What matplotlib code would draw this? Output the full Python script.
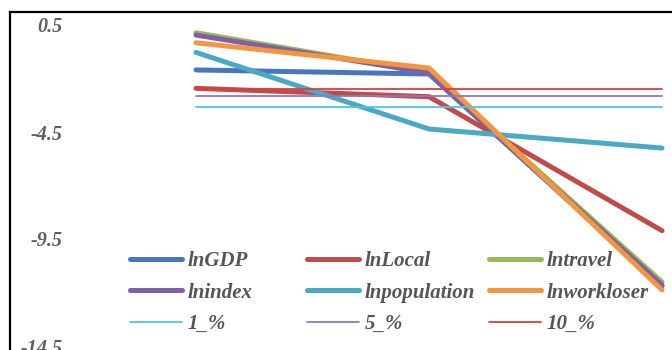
import matplotlib
matplotlib.use("Agg")
import matplotlib.pyplot as plt
from matplotlib.lines import Line2D

# Test stages along the horizontal axis (unlabelled)
stages = [0, 1, 2]

# Test statistics per variable
lnGDP = [-1.60, -1.79, -11.70]
lnLocal = [-2.46, -2.85, -9.11]
lntravel = [0.14, -1.72, -11.51]
lnindex = [0.03, -1.74, -11.65]
lnpopulation = [-0.78, -4.36, -5.25]
lnworkloser = [-0.33, -1.51, -11.88]

# Critical values
crit_1 = -3.33
crit_5 = -2.81
crit_10 = -2.50

yticks = [0.5, -4.5, -9.5, -14.5]
ytick_labels = ["0.5", "-4.5", "-9.5", "-14.5"]

W, H = 672, 350
fig = plt.figure(figsize=(W / 100, H / 100), dpi=100)
fig.patch.set_facecolor("white")

# plot region in pixels
px_left, px_right = 75, 672
px_top, px_bottom = 12, 350
ax = fig.add_axes([px_left / W, 1 - px_bottom / H,
                   (px_right - px_left) / W, (px_bottom - px_top) / H])

# map stage 0 -> x=196px, stage 2 -> x=662px
unit = (662 - 196) / 2
ax.set_xlim(-(196 - px_left) / unit, 2 + (px_right - 662) / unit)
yunit = 21.4
ax.set_ylim(0.5 - (px_bottom - 25) / yunit, 0.5 + (25 - px_top) / yunit)

thick = 3.6
thin = 1.3
series = [
    ("lnGDP", lnGDP, "#4A76C0", thick),
    ("lnLocal", lnLocal, "#BF4B4A", thick),
    ("lntravel", lntravel, "#96BA58", thick),
    ("lnindex", lnindex, "#7F60A6", thick),
    ("lnpopulation", lnpopulation, "#4AAAC4", thick),
    ("lnworkloser", lnworkloser, "#F4963F", thick),
    ("1_%", [crit_1] * 3, "#4CC6E2", thin),
    ("5_%", [crit_5] * 3, "#9676B8", thin),
    ("10_%", [crit_10] * 3, "#DE3E3E", thin),
]
handles = {}
for name, vals, color, lw in series:
    ln, = ax.plot(stages, vals, color=color, lw=lw, solid_capstyle="round",
                  solid_joinstyle="miter", label=name)
    handles[name] = ln

for s in ax.spines.values():
    s.set_visible(False)
ax.set_xticks([])
ax.set_yticks(yticks)
ax.set_yticklabels(ytick_labels)
ax.tick_params(axis="y", length=0, pad=9)
for t in ax.get_yticklabels():
    t.set_fontfamily("Liberation Serif")
    t.set_fontstyle("italic")
    t.set_fontweight("bold")
    t.set_fontsize(14.5)
    t.set_color("#5E5E5E")

# chart border (top and left edges visible)
fig.add_artist(Line2D([10 / W, 10 / W], [0, 1 - 12 / H],
                      transform=fig.transFigure, color="black", lw=1.6))
fig.add_artist(Line2D([10 / W, 1], [1 - 12 / H, 1 - 12 / H],
                      transform=fig.transFigure, color="black", lw=1.6))

# legend laid out in three columns
columns = [
    (["lnGDP", "lnindex", "1_%"], 130),
    (["lnLocal", "lnpopulation", "5_%"], 307),
    (["lntravel", "lnworkloser", "10_%"], 489),
]
font = dict(family="Liberation Serif", style="italic", weight="bold", size=15)
for names, xpix in columns:
    hs = []
    for n in names:
        h = handles[n]
        hs.append(Line2D([], [], color=h.get_color(), lw=h.get_linewidth(),
                         solid_capstyle="round"))
    leg = fig.legend(hs, names, loc="upper left",
                     bbox_to_anchor=(xpix / W, 1 - 251 / H),
                     bbox_transform=fig.transFigure, frameon=False,
                     borderpad=0, borderaxespad=0, handlelength=2.5,
                     handletextpad=0.25, labelspacing=0.56, prop=font)
    for t in leg.get_texts():
        t.set_color("#555555")

fig.savefig("out.png", dpi=100)
